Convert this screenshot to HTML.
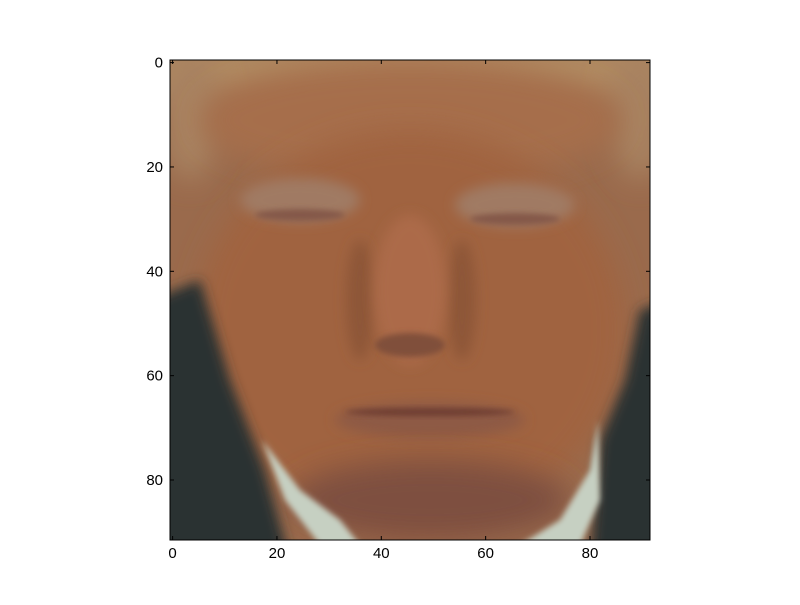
<!DOCTYPE html>
<html><head><meta charset="utf-8"><style>
body{margin:0;background:#fff;}
svg text{font-family:"Liberation Sans",sans-serif;font-size:15px;fill:#000;}
</style></head><body>
<svg width="800" height="600" viewBox="0 0 800 600">
<defs>
<clipPath id="cp"><rect x="170" y="60" width="480" height="480"/></clipPath>
<filter id="b6" x="-50%" y="-50%" width="200%" height="200%"><feGaussianBlur stdDeviation="6"/></filter>
<filter id="b14" x="-50%" y="-50%" width="200%" height="200%"><feGaussianBlur stdDeviation="14"/></filter>
<filter id="b3" x="-50%" y="-50%" width="200%" height="200%"><feGaussianBlur stdDeviation="3"/></filter>
</defs>
<g clip-path="url(#cp)">
<rect x="170" y="60" width="480" height="480" fill="#9a6a4c"/>
<rect x="150" y="40" width="520" height="60" fill="#b08a62" filter="url(#b14)"/>
<ellipse cx="190" cy="110" rx="30" ry="70" fill="#a88260" filter="url(#b14)"/>
<ellipse cx="640" cy="110" rx="30" ry="70" fill="#a88260" filter="url(#b14)"/>
<ellipse cx="410" cy="120" rx="210" ry="60" fill="#a66e4c" filter="url(#b14)"/>
<ellipse cx="410" cy="330" rx="215" ry="200" fill="#a0643f" filter="url(#b14)"/>
<ellipse cx="300" cy="200" rx="60" ry="22" fill="#a07a64" filter="url(#b6)"/>
<ellipse cx="515" cy="205" rx="60" ry="22" fill="#a07a64" filter="url(#b6)"/>
<ellipse cx="300" cy="215" rx="45" ry="6" fill="#84584a" filter="url(#b3)"/>
<ellipse cx="515" cy="219" rx="45" ry="6" fill="#84584a" filter="url(#b3)"/>
<ellipse cx="360" cy="300" rx="14" ry="60" fill="#8e5638" filter="url(#b6)"/>
<ellipse cx="462" cy="300" rx="14" ry="60" fill="#8e5638" filter="url(#b6)"/>
<ellipse cx="410" cy="290" rx="36" ry="75" fill="#ac6a48" filter="url(#b6)"/>
<ellipse cx="410" cy="345" rx="35" ry="12" fill="#80503a" filter="url(#b3)"/>
<ellipse cx="430" cy="420" rx="95" ry="18" fill="#8e5a44" filter="url(#b6)"/>
<ellipse cx="430" cy="412" rx="85" ry="4" fill="#6e3e30" filter="url(#b3)"/>
<ellipse cx="430" cy="500" rx="140" ry="40" fill="#7e5040" filter="url(#b14)"/>
<polygon points="150,300 200,280 230,380 265,470 290,560 150,560" fill="#2c3230" filter="url(#b6)"/>
<polygon points="670,300 640,310 625,380 600,440 590,560 670,560" fill="#2c3230" filter="url(#b6)"/>
<polygon points="262,440 285,500 320,545 360,545 340,520 300,490" fill="#c6d0c2" filter="url(#b3)"/>
<polygon points="598,420 590,470 560,520 520,545 580,545 600,500" fill="#c6d0c2" filter="url(#b3)"/>
</g>
<rect x="170" y="60" width="480" height="480" fill="none" stroke="#000" stroke-width="1"/>
<g id="xt"></g>
<g id="yt"></g>
</svg>
<script>
const xTicks=[0,20,40,60,80];
const yTicks=[0,20,40,60,80];
const x0=170,y0=60,sz=480,n=92;
const sx=v=>x0+(v+0.5)*sz/n, sy=v=>y0+(v+0.5)*sz/n;
const NS="http://www.w3.org/2000/svg";
const xt=document.getElementById('xt'),yt=document.getElementById('yt');
function mk(t,a){const e=document.createElementNS(NS,t);for(const k in a)e.setAttribute(k,a[k]);return e;}
xTicks.forEach(v=>{const x=sx(v);
[[540,536],[60,64]].forEach(p=>{const l=mk('line',{x1:x,x2:x,y1:p[0],y2:p[1],stroke:'#000'});

xt.appendChild(l);});
const t=mk('text',{x:x,y:558,'text-anchor':'middle'});t.textContent=v;

xt.appendChild(t);});
yTicks.forEach(v=>{const y=sy(v);
[[170,174],[650,646]].forEach(p=>{const l=mk('line',{x1:p[0],x2:p[1],y1:y,y2:y,stroke:'#000'});

yt.appendChild(l);});
const t=mk('text',{x:163,y:y+5,'text-anchor':'end'});t.textContent=v;

yt.appendChild(t);});
</script>
</body></html>
